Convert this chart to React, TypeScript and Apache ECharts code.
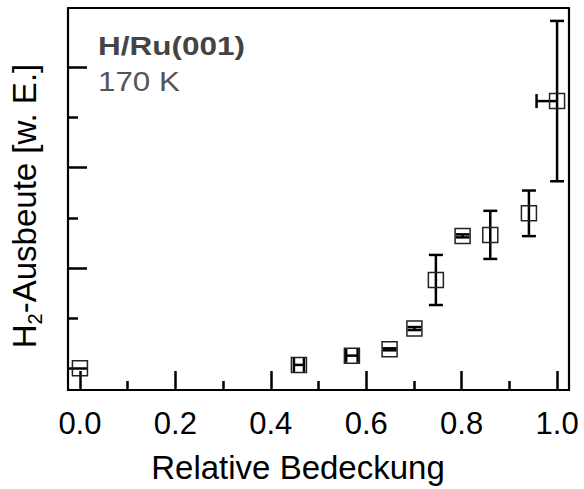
import React, { useEffect, useRef } from 'react';
import * as echarts from 'echarts';

// Data (y in arbitrary units, 1 unit = one minor y tick)
const coverage = [0.0, 0.459, 0.570, 0.649, 0.701, 0.746, 0.802, 0.860, 0.941, 1.0];
const h2Yield = [0.0, 0.065, 0.25, 0.376, 0.79, 1.76, 2.64, 2.66, 3.09, 5.33];
const yieldError = [0, 0, 0, 0.02, 0.03, 0.5, 0.03, 0.48, 0.455, 1.6];
const coverageErrorLow = [0, 0.0105, 0.012, 0, 0, 0, 0, 0, 0, 0.043];
const coverageErrorHigh = [0, 0.0105, 0.012, 0, 0, 0, 0, 0, 0, 0];

const xMajorTicks = [0, 0.2, 0.4, 0.6, 0.8, 1.0];
const xMinorTicks = [0.1, 0.3, 0.5, 0.7, 0.9];
const yMajorTicks = [0, 2, 4, 6];
const yMinorTicks = [1, 3, 5];

const xTitle = 'Relative Bedeckung';
const yTitleParts = ['H', '2', '-Ausbeute [w. E.]'];
const annotationSystem = 'H/Ru(001)';
const annotationTemp = '170 K';

const X_MIN = -0.025;
const X_MAX = 1.025;
const Y_MIN = -0.436;
const Y_MAX = 7.188;

const FONT = '"Liberation Sans", Arial, Helvetica, sans-serif';

export default function App() {
  const ref = useRef<HTMLDivElement>(null);

  useEffect(() => {
    if (!ref.current) return;
    const chart = echarts.init(ref.current, null, { renderer: 'svg' });

    const lineStyle = { color: '#000', width: 2.2 };
    const tickStyle = { color: '#000', width: 2.5 };

    const seriesData = coverage.map((x, i) => [
      x,
      h2Yield[i],
      coverageErrorLow[i],
      coverageErrorHigh[i],
      yieldError[i],
    ]);

    const option: any = {
      animation: false,
      backgroundColor: '#ffffff',
      grid: { left: 67, right: 15, top: 8, bottom: 96, containLabel: false },
      xAxis: [
        {
          type: 'value',
          position: 'bottom',
          min: X_MIN,
          max: X_MAX,
          axisLine: { show: true, onZero: false, lineStyle },
          axisTick: { show: true, inside: true, length: 19, customValues: xMajorTicks, lineStyle: tickStyle },
          axisLabel: {
            show: true,
            customValues: xMajorTicks,
            formatter: (v: number) => v.toFixed(1),
            margin: 18,
            fontSize: 31,
            color: '#000',
            fontFamily: FONT,
          },
          splitLine: { show: false },
          name: xTitle,
          nameLocation: 'middle',
          nameGap: 61,
          nameTextStyle: { fontSize: 33, color: '#000', fontFamily: FONT, padding: [0, 41, 0, 0] },
        },
        {
          type: 'value',
          position: 'bottom',
          min: X_MIN,
          max: X_MAX,
          axisLine: { show: false, onZero: false },
          axisTick: { show: true, inside: true, length: 9, customValues: xMinorTicks, lineStyle: tickStyle },
          axisLabel: { show: false },
          splitLine: { show: false },
        },
        {
          type: 'value',
          position: 'top',
          min: X_MIN,
          max: X_MAX,
          axisLine: { show: true, onZero: false, lineStyle },
          axisTick: { show: false },
          axisLabel: { show: false },
          splitLine: { show: false },
        },
      ],
      yAxis: [
        {
          type: 'value',
          position: 'left',
          min: Y_MIN,
          max: Y_MAX,
          axisLine: { show: true, onZero: false, lineStyle },
          axisTick: { show: true, inside: true, length: 19, customValues: yMajorTicks, lineStyle: tickStyle },
          axisLabel: { show: false },
          splitLine: { show: false },
          name: `{m|${yTitleParts[0]}}{s|${yTitleParts[1]}}{m|${yTitleParts[2]}}`,
          nameLocation: 'middle',
          nameRotate: 90,
          nameGap: 23,
          nameTextStyle: {
            fontFamily: FONT,
            color: '#000',
            padding: [0, 14, 0, 0],
            rich: {
              m: { fontSize: 33, lineHeight: 33, fontFamily: FONT, color: '#000', verticalAlign: 'top' },
              s: { fontSize: 20, fontFamily: FONT, color: '#000', padding: [17, 0, 0, 0], verticalAlign: 'top' },
            },
          },
        },
        {
          type: 'value',
          position: 'left',
          min: Y_MIN,
          max: Y_MAX,
          axisLine: { show: false, onZero: false },
          axisTick: { show: true, inside: true, length: 10, customValues: yMinorTicks, lineStyle: tickStyle },
          axisLabel: { show: false },
          splitLine: { show: false },
        },
        {
          type: 'value',
          position: 'right',
          min: Y_MIN,
          max: Y_MAX,
          axisLine: { show: true, onZero: false, lineStyle },
          axisTick: { show: false },
          axisLabel: { show: false },
          splitLine: { show: false },
        },
      ],
      graphic: [
        {
          type: 'text',
          x: 98,
          y: 34,
          scaleX: 1.26,
          style: {
            text: annotationSystem,
            fontSize: 25,
            fontWeight: 'bold',
            fontFamily: FONT,
            fill: '#444',
            verticalAlign: 'top',
          },
        },
        {
          type: 'text',
          x: 98,
          y: 67,
          scaleX: 1.12,
          style: {
            text: annotationTemp,
            fontSize: 28,
            fontFamily: FONT,
            fill: '#555',
            verticalAlign: 'top',
          },
        },
      ],
      series: [
        {
          type: 'custom',
          xAxisIndex: 0,
          yAxisIndex: 0,
          clip: true,
          encode: { x: 0, y: 1 },
          data: seriesData,
          renderItem: (params: any, api: any) => {
            const x = api.value(0);
            const y = api.value(1);
            const xl = api.value(2);
            const xh = api.value(3);
            const ye = api.value(4);
            const c = api.coord([x, y]);
            const children: any[] = [];
            const es = { stroke: '#000', lineWidth: 2.5 };
            const cap = 7;
            if (ye > 0) {
              const top = api.coord([x, y + ye]);
              const bot = api.coord([x, y - ye]);
              children.push({ type: 'line', shape: { x1: c[0], y1: top[1], x2: c[0], y2: bot[1] }, style: es });
              children.push({ type: 'line', shape: { x1: c[0] - cap, y1: top[1], x2: c[0] + cap, y2: top[1] }, style: es });
              children.push({ type: 'line', shape: { x1: c[0] - cap, y1: bot[1], x2: c[0] + cap, y2: bot[1] }, style: es });
            }
            if (xl > 0 || xh > 0) {
              const l = api.coord([x - xl, y]);
              const r = api.coord([x + xh, y]);
              children.push({ type: 'line', shape: { x1: l[0], y1: c[1], x2: r[0], y2: c[1] }, style: es });
              if (xl > 0) {
                children.push({ type: 'line', shape: { x1: l[0], y1: c[1] - cap, x2: l[0], y2: c[1] + cap }, style: es });
              }
              if (xh > 0) {
                children.push({ type: 'line', shape: { x1: r[0], y1: c[1] - cap, x2: r[0], y2: c[1] + cap }, style: es });
              }
            }
            children.push({
              type: 'rect',
              shape: { x: c[0] - 7.5, y: c[1] - 7.5, width: 15, height: 15 },
              style: { fill: 'none', stroke: '#222', lineWidth: 1.5 },
            });
            return { type: 'group', children };
          },
        },
      ],
    };

    chart.setOption(option);
    return () => {
      chart.dispose();
    };
  }, []);

  return (
    <div
      ref={ref}
      style={{ position: 'fixed', left: 0, top: 0, width: 584, height: 489, background: '#fff' }}
    />
  );
}
